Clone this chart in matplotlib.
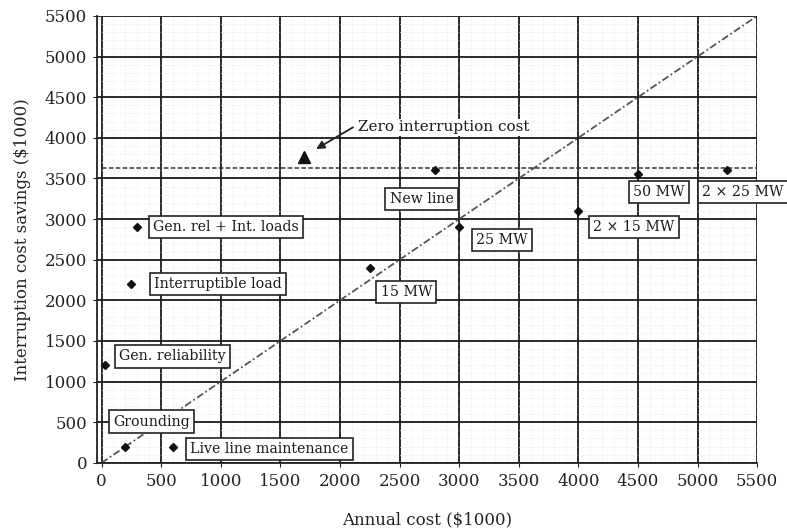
import numpy as np
import matplotlib
matplotlib.use("Agg")
import matplotlib.pyplot as plt

plt.rcParams['font.family'] = ['DejaVu Serif']

# data
names = ["Grounding", "Live line maintenance", "Gen. reliability", "Interruptible load",
         "Gen. rel + Int. loads", "15 MW", "25 MW", "New line", "2 \u00d7 15 MW",
         "50 MW", "2 \u00d7 25 MW"]
annual_cost = [200, 600, 25, 250, 300, 2250, 3000, 2800, 4000, 4500, 5250]
savings = [200, 200, 1200, 2200, 2900, 2400, 2900, 3600, 3100, 3550, 3600]
zero_cost = (1700, 3770)
zero_level = 3630

# where the label boxes sit
label_pos = [(95, 506), (742, 173), (150, 1310), (442, 2200), (433, 2900),
             (2342, 2100), (3142, 2740), (2417, 3250), (4125, 2900),
             (4458, 3333), (5040, 3333)]

fig = plt.figure(figsize=(7.87, 5.32), dpi=100)
ax = fig.add_axes([0.123, 0.130, 0.839, 0.840])

ticks = np.arange(0, 5501, 500)
minor = [v for v in range(0, 5501, 100) if v % 500 != 0]
ax.set_xticks(ticks)
ax.set_yticks(ticks)
ax.set_xticks(minor, minor=True)
ax.set_yticks(minor, minor=True)
ax.grid(which='major', color='#1a1a1a', linewidth=1.3)
ax.grid(which='minor', color='#e6e6e6', linewidth=0.6, linestyle=':')
ax.set_axisbelow(True)
ax.tick_params(which='minor', length=0)
ax.tick_params(which='major', length=3, labelsize=12, colors='#222222', pad=4)
for s in ['top', 'right']:
    ax.spines[s].set_visible(False)
for s in ['left', 'bottom']:
    ax.spines[s].set_color('#222222')
    ax.spines[s].set_linewidth(1.3)

ax.set_xlim(-40, 5500)
ax.set_ylim(0, 5500)

ax.plot([0, 5500], [0, 5500], color='#555555', linestyle=(0, (4, 1.5, 1, 1.5)), linewidth=1.3)
ax.plot([0, 5500], [zero_level, zero_level], color='#333333', linestyle=(0, (3, 1.5)), linewidth=1.1)

ax.plot(annual_cost, savings, linestyle='none', marker='D', markersize=4.5, color='#111111')
ax.plot([zero_cost[0]], [zero_cost[1]], linestyle='none', marker='^', markersize=8, color='#111111')

for n, (px, py) in zip(names, label_pos):
    ax.text(px, py, n, ha='left', va='center', fontsize=10.2, color='#1a1a1a', clip_on=False,
            bbox=dict(boxstyle='square,pad=0.3', fc='white', ec='#222222', lw=1.2))

ax.text(2150, 4130, "Zero interruption cost", fontsize=11, va='center', ha='left', color='#1a1a1a',
        bbox=dict(boxstyle='square,pad=0.1', fc='white', ec='none'))
ax.annotate("", xy=(zero_cost[0] + 40, zero_cost[1] + 40), xytext=(2110, 4130),
            arrowprops=dict(arrowstyle='-|>', color='#222222', lw=1.3,
                            shrinkA=0, shrinkB=6, mutation_scale=12))

ax.set_xlabel("Annual cost ($1000)", fontsize=12, color='#222222', labelpad=16)
ax.set_ylabel("Interruption cost savings ($1000)", fontsize=12, color='#222222', labelpad=10)

fig.savefig("out.png", dpi=100)
